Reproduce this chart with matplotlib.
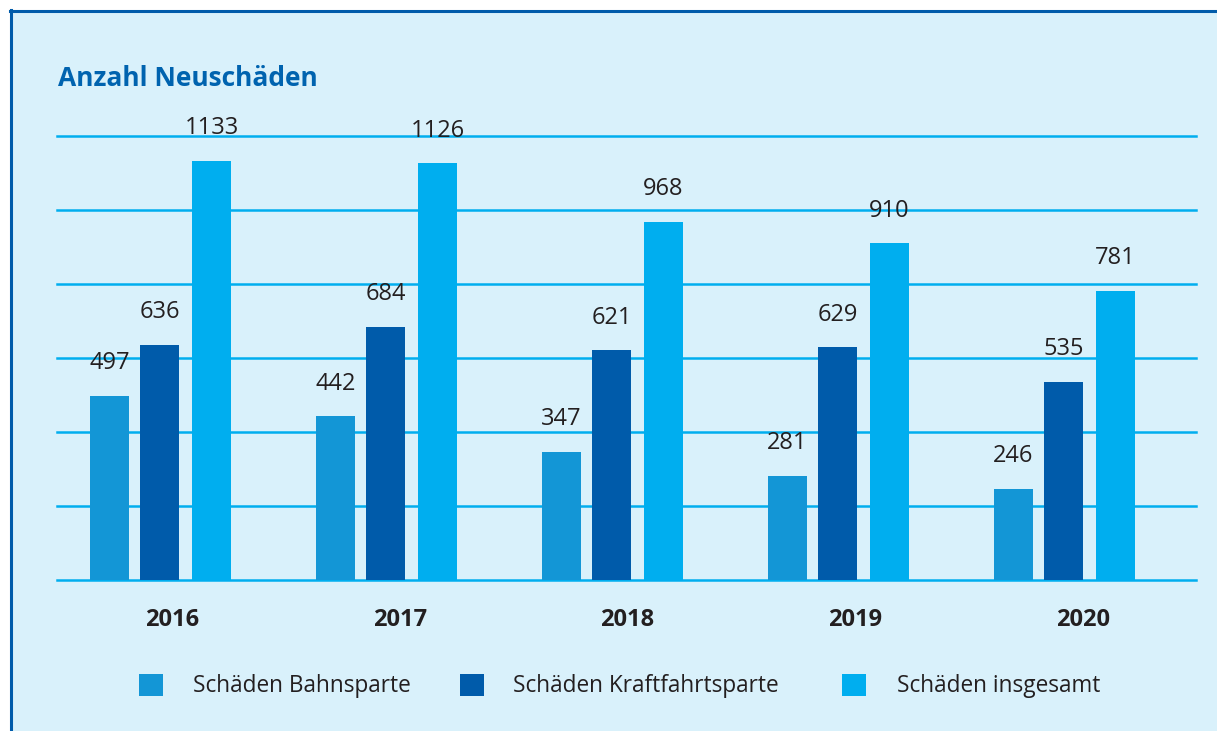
import matplotlib.pyplot as plt
from matplotlib.patches import Rectangle
from matplotlib.lines import Line2D

plt.rcParams['font.family'] = ['Open Sans', 'DejaVu Sans']

# data
years = ['2016', '2017', '2018', '2019', '2020']
bahn = [497, 442, 347, 281, 246]
kraft = [636, 684, 621, 629, 535]
gesamt = [1133, 1126, 968, 910, 781]
series_names = ['Schäden Bahnsparte', 'Schäden Kraftfahrtsparte', 'Schäden insgesamt']
colors = ['#1396D6', '#005BAA', '#00AEEF']

W, H = 1217, 731
bg = '#D9F1FB'
text_col = '#231F20'

fig = plt.figure(figsize=(W / 100, H / 100), dpi=100)
fig.patch.set_facecolor('white')

# panel with border on top and left
fig.patches.append(Rectangle((10 / W, 0), 1.0, 1 - 10 / H, transform=fig.transFigure,
                             facecolor=bg, edgecolor='none', zorder=-5))
fig.lines.append(Line2D([10 / W, 1], [1 - 11 / H, 1 - 11 / H], transform=fig.transFigure,
                        color='#005BAA', lw=2.2, zorder=-4))
fig.lines.append(Line2D([11 / W, 11 / W], [0, 1 - 10 / H], transform=fig.transFigure,
                        color='#005BAA', lw=2.2, zorder=-4))

ax = fig.add_axes([57 / W, (H - 580) / H, 1139 / W, 444 / H])
ax.set_facecolor('none')
ax.set_xlim(-0.4535, 1139 / 226 - 0.4535)
ax.set_ylim(0, 1200)
for s in ax.spines.values():
    s.set_visible(False)
ax.set_xticks([])
ax.set_yticks([])

for v in range(0, 1201, 200):
    ax.axhline(v, color='#00AEEF', lw=1.8, clip_on=False, zorder=1)

offsets = [-0.221, 0.0, 0.230]
width = 0.1726
for vals, off, c in zip([bahn, kraft, gesamt], offsets, colors):
    xs = [i + off for i in range(len(years))]
    ax.bar(xs, vals, width=width, color=c, zorder=2)
    for x, v in zip(xs, vals):
        ax.annotate(str(v), (x, v), xytext=(0, 23.5), textcoords='offset points',
                    ha='center', va='center', fontsize=17, color=text_col)

for i, y in enumerate(years):
    ax.text(i * 1.008 + 0.055, -40 / 444 * 1200, y, ha='center', va='center',
            fontsize=17, fontweight='bold', color=text_col)

fig.text(58 / W, 1 - 78 / H, 'Anzahl Neuschäden', ha='left', va='center',
         fontsize=19, fontweight='bold', color='#0063AF')

# legend
sq_x = [139, 460, 842]
tx_x = [193, 513, 897]
for sx, tx, name, c in zip(sq_x, tx_x, series_names, colors):
    fig.patches.append(Rectangle((sx / W, 1 - 696 / H), 24 / W, 22 / H,
                                 transform=fig.transFigure, facecolor=c, edgecolor='none'))
    fig.text(tx / W, 1 - 686 / H, name, ha='left', va='center', fontsize=16.3, color=text_col)

fig.savefig('out.png', dpi=100, facecolor=fig.get_facecolor())
